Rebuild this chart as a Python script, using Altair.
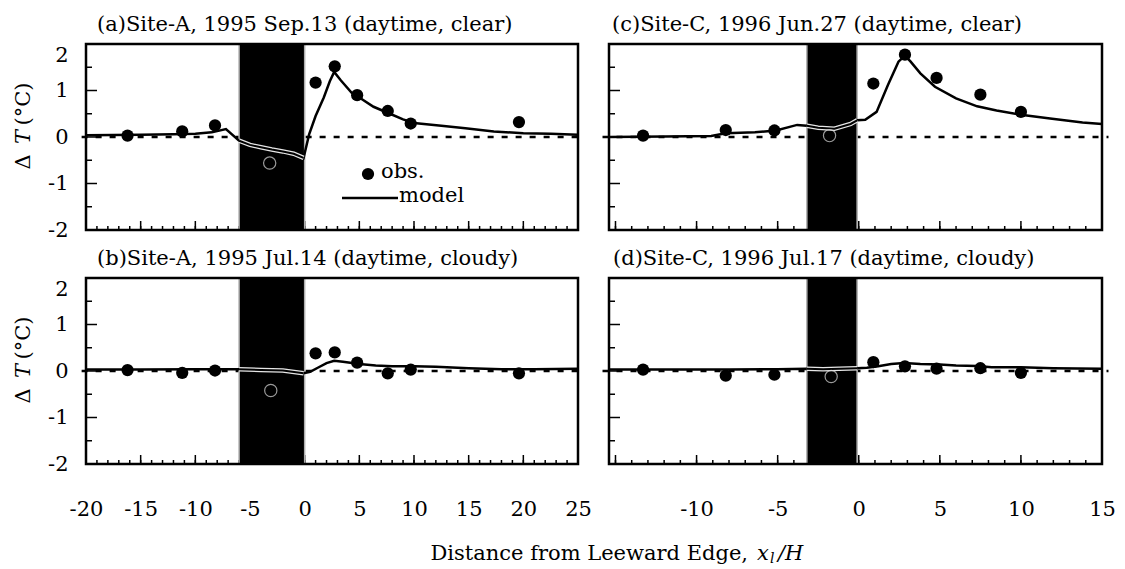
import altair as alt
import pandas as pd

FONT = "DejaVu Serif"
FS = 21

# observation stations, x/H from the leeward forest edge
SITE_A_X = [-16.2, -11.2, -8.2, 1.0, 2.75, 4.8, 7.6, 9.7, 19.6]
SITE_C_X = [-13.3, -8.2, -5.2, 0.9, 2.85, 4.8, 7.5, 10.0]

# forest strip (x/H) at each site
FOREST_A = [-6.0, 0.0]
FOREST_C = [-3.2, -0.1]

# (a) Site-A, 1995 Sep.13, clear
A_OBS = [0.03, 0.12, 0.25, 1.17, 1.52, 0.90, 0.56, 0.29, 0.32]
A_IN = [-3.2, -0.56]
A_MODEL_X = [-20, -15, -12, -10, -8.5, -7.2, -6.0, -5.0, -4.0, -3.0, -2.0, -1.0, -0.1,
             0.4, 1.0, 1.75, 2.3, 2.7, 3.3, 4.3, 5.0, 6.3, 7.8, 9.0, 10.0, 12.5, 14.7,
             17.3, 20.0, 22.5, 25.0]
A_MODEL_Y = [0.04, 0.05, 0.06, 0.07, 0.10, 0.17, -0.08, -0.17, -0.22, -0.27, -0.31, -0.36, -0.45,
             0.05, 0.45, 0.85, 1.20, 1.40, 1.22, 0.95, 0.85, 0.65, 0.50, 0.38, 0.30, 0.24, 0.19,
             0.12, 0.08, 0.07, 0.05]

# (b) Site-A, 1995 Jul.14, cloudy
B_OBS = [0.02, -0.04, 0.01, 0.38, 0.40, 0.18, -0.05, 0.03, -0.05]
B_IN = [-3.1, -0.42]
B_MODEL_X = [-20, -15, -10, -8, -6.0, -4.0, -2.0, -0.1, 0.5, 1.2, 2.0, 2.7, 3.5, 5.0, 6.5,
             8.0, 10, 12, 15, 18, 21, 25]
B_MODEL_Y = [0.03, 0.03, 0.04, 0.04, 0.04, 0.02, 0.01, -0.05, -0.02, 0.07, 0.17, 0.22, 0.20,
             0.15, 0.12, 0.10, 0.10, 0.09, 0.06, 0.04, 0.04, 0.05]

# (c) Site-C, 1996 Jun.27, clear
C_OBS = [0.03, 0.15, 0.14, 1.15, 1.77, 1.27, 0.91, 0.54]
C_IN = [-1.8, 0.03]
C_MODEL_X = [-15.4, -12, -9.1, -8.2, -6.4, -5.1, -3.8, -3.2, -2.5, -1.5, -0.5, -0.1, 0.4, 1.1,
             1.8, 2.45, 2.85, 3.2, 3.8, 4.7, 6.0, 7.3, 8.5, 10, 11.8, 13.8, 15.0]
C_MODEL_Y = [0.00, 0.01, 0.02, 0.08, 0.10, 0.14, 0.26, 0.24, 0.20, 0.18, 0.28, 0.36, 0.37, 0.54,
             1.12, 1.62, 1.75, 1.62, 1.37, 1.08, 0.83, 0.66, 0.57, 0.48, 0.40, 0.31, 0.28]

# (d) Site-C, 1996 Jul.17, cloudy
D_OBS = [0.03, -0.10, -0.08, 0.19, 0.10, 0.05, 0.06, -0.04]
D_IN = [-1.7, -0.12]
D_MODEL_X = [-15.4, -12, -8, -5, -3.2, -2.2, -1.2, -0.1, 0.5, 1.2, 2.0, 2.8, 3.8, 5.0, 6.0,
             7.3, 8.2, 10, 12, 15.0]
D_MODEL_Y = [0.03, 0.03, 0.03, 0.04, 0.05, 0.04, 0.05, 0.06, 0.07, 0.10, 0.15, 0.17, 0.15, 0.14,
             0.12, 0.11, 0.08, 0.08, 0.06, 0.05]

Y_LABELS = [-2, -1, 0, 1, 2]
H = 186


def one_row():
    return pd.DataFrame({"k": [0]})


def panel(title, title_dx, xdom, xlabels, forest, obs_x, obs_y, inside, mx, my,
          width, left=False, bottom=False, legend=False, xtitle=False):
    xs = alt.Scale(domain=xdom, nice=False, zero=False)
    ys = alt.Scale(domain=[-2, 2], nice=False, zero=False)

    if bottom:
        xaxis = alt.Axis(values=xlabels, labelExpr="datum.value + ''", ticks=False,
                         domain=False, grid=False, labelFont=FONT, labelFontSize=FS,
                         labelColor="black", labelPadding=34, labelFlush=False,
                         labelOverlap=False, title=None)
    else:
        xaxis = None
    if left:
        yaxis = alt.Axis(values=Y_LABELS, labelExpr="datum.value + ''", ticks=False,
                         domain=False, grid=False, labelFont=FONT, labelFontSize=FS,
                         labelColor="black", labelPadding=18, labelFlush=False, title=None,
                         labelBaseline=alt.condition("datum.value == 2",
                                                     alt.value("top"), alt.value("middle")))
    else:
        yaxis = None

    def X(field=None, datum=None):
        if datum is not None:
            return alt.X(datum=datum, type="quantitative", scale=xs, axis=xaxis)
        return alt.X(field, type="quantitative", scale=xs, axis=xaxis)

    def Y(field=None, datum=None):
        if datum is not None:
            return alt.Y(datum=datum, type="quantitative", scale=ys, axis=yaxis)
        return alt.Y(field, type="quantitative", scale=ys, axis=yaxis)

    lo, hi = xdom
    first = int(-(-lo // 1))
    xminor = pd.DataFrame({"v": list(range(first, int(hi) + 1))})
    xmajor = pd.DataFrame({"v": [v for v in range(first, int(hi) + 1) if v % 5 == 0]})
    yminor = pd.DataFrame({"v": [-1.5, -0.5, 0.5, 1.5]})
    ymajor = pd.DataFrame({"v": [-1, 0, 1]})

    obs = pd.DataFrame({"x": obs_x, "y": obs_y})
    model = pd.DataFrame({"x": mx, "y": my})
    inside_df = pd.DataFrame({"x": [inside[0]], "y": [inside[1]]})

    layers = []
    # zero reference line
    layers.append(
        alt.Chart(one_row()).mark_rule(color="black", strokeWidth=2.5, strokeDash=[6, 8])
        .encode(x=X(datum=lo - 0.4), x2=alt.X2(datum=hi + 0.4), y=Y(datum=0))
    )
    # inward ticks
    layers.append(alt.Chart(xminor).mark_rule(color="black", strokeWidth=1.5)
                  .encode(x=X("v"), y=alt.value(H), y2=alt.value(H - 4)))
    layers.append(alt.Chart(xmajor).mark_rule(color="black", strokeWidth=1.5)
                  .encode(x=X("v"), y=alt.value(H), y2=alt.value(H - 9)))
    layers.append(alt.Chart(yminor).mark_rule(color="black", strokeWidth=1.5)
                  .encode(y=Y("v"), x=alt.value(0), x2=alt.value(6)))
    layers.append(alt.Chart(ymajor).mark_rule(color="black", strokeWidth=1.5)
                  .encode(y=Y("v"), x=alt.value(0), x2=alt.value(11)))
    # forest strip
    layers.append(
        alt.Chart(one_row()).mark_rect(color="black", stroke="#b0b0b0", strokeWidth=1.5)
        .encode(x=X(datum=forest[0]), x2=alt.X2(datum=forest[1]),
                y=Y(datum=-2), y2=alt.Y2(datum=2))
    )
    # model profile
    layers.append(alt.Chart(model).mark_line(color="black", strokeWidth=2.5)
                  .encode(x=X("x"), y=Y("y"), order="x:Q"))
    inner = alt.Chart(model).transform_filter(
        f"datum.x >= {forest[0]} && datum.x <= {forest[1]}")
    layers.append(inner.mark_line(color="#e6e6e6", strokeWidth=4.5)
                  .encode(x=X("x"), y=Y("y"), order="x:Q"))
    layers.append(inner.mark_line(color="black", strokeWidth=2)
                  .encode(x=X("x"), y=Y("y"), order="x:Q"))
    # observations
    layers.append(alt.Chart(obs).mark_circle(color="black", size=150, opacity=1)
                  .encode(x=X("x"), y=Y("y")))
    layers.append(alt.Chart(inside_df).mark_point(shape="circle", filled=False, color="#dcdcdc",
                                                 strokeWidth=1.2, size=150)
                  .encode(x=X("x"), y=Y("y")))

    if legend:
        layers.append(alt.Chart(one_row()).mark_circle(color="black", size=150, opacity=1)
                      .encode(x=alt.value(282), y=alt.value(130)))
        layers.append(alt.Chart(one_row()).mark_text(text="obs.", font=FONT, fontSize=FS,
                                                     align="left", baseline="middle")
                      .encode(x=alt.value(295), y=alt.value(128)))
        layers.append(alt.Chart(one_row()).mark_rule(color="black", strokeWidth=2.5)
                      .encode(x=alt.value(256), x2=alt.value(312), y=alt.value(154)))
        layers.append(alt.Chart(one_row()).mark_text(text="model", font=FONT, fontSize=FS,
                                                     align="left", baseline="middle")
                      .encode(x=alt.value(313), y=alt.value(152)))

    if left:
        for txt, yy, style in [("Δ", 118, "normal"), ("T", 93, "italic"), ("(°C)", 60, "normal")]:
            layers.append(alt.Chart(one_row()).mark_text(text=txt, font=FONT, fontSize=FS,
                                                         fontStyle=style, angle=270,
                                                         align="center", baseline="middle")
                          .encode(x=alt.value(-62), y=alt.value(yy)))

    if xtitle:
        ty = H + 96
        parts = [("Distance from Leeward Edge,", 662, "right", "normal", FS, 0),
                 ("x", 671, "left", "italic", FS, 0),
                 ("l", 684, "left", "italic", 14, 3),
                 ("/H", 692, "left", "italic", FS, 0)]
        for txt, xx, al, style, size, dy in parts:
            layers.append(alt.Chart(one_row()).mark_text(text=txt, font=FONT, fontSize=size,
                                                         fontStyle=style, align=al,
                                                         baseline="alphabetic", dy=dy)
                          .encode(x=alt.value(xx), y=alt.value(ty)))

    # plot frame
    layers.append(alt.Chart(one_row()).mark_rect(fill=None, fillOpacity=0, stroke="black",
                                                 strokeWidth=2.5)
                  .encode(x=alt.value(0), x2=alt.value(width), y=alt.value(0), y2=alt.value(H)))

    return alt.layer(*layers).properties(
        width=width, height=H,
        title=alt.TitleParams(title, font=FONT, fontSize=FS, fontWeight="normal", color="black",
                              anchor="start", frame="group", dx=title_dx, offset=-9,
                              baseline="alphabetic"),
    )


LEFT_DOM = [-20, 25]
RIGHT_DOM = [-15.4, 15]
LEFT_LABELS = [-20, -15, -10, -5, 0, 5, 10, 15, 20, 25]
RIGHT_LABELS = [-10, -5, 0, 5, 10, 15]

pa = panel("(a)Site-A, 1995 Sep.13 (daytime, clear)", 11, LEFT_DOM, LEFT_LABELS, FOREST_A,
           SITE_A_X, A_OBS, A_IN, A_MODEL_X, A_MODEL_Y, 492, left=True, legend=True)
pc = panel("(c)Site-C, 1996 Jun.27 (daytime, clear)", 3, RIGHT_DOM, RIGHT_LABELS, FOREST_C,
           SITE_C_X, C_OBS, C_IN, C_MODEL_X, C_MODEL_Y, 493)
pb = panel("(b)Site-A, 1995 Jul.14 (daytime, cloudy)", 11, LEFT_DOM, LEFT_LABELS, FOREST_A,
           SITE_A_X, B_OBS, B_IN, B_MODEL_X, B_MODEL_Y, 492, left=True, bottom=True, xtitle=True)
pd_ = panel("(d)Site-C, 1996 Jul.17 (daytime, cloudy)", 4, RIGHT_DOM, RIGHT_LABELS, FOREST_C,
            SITE_C_X, D_OBS, D_IN, D_MODEL_X, D_MODEL_Y, 493, bottom=True)

chart = alt.concat(pa, pc, pb, pd_, columns=2, spacing={"row": 48, "column": 31},
                   bounds="flush").properties(
    padding={"left": 13, "top": 13, "right": 5, "bottom": 0},
    background="white",
).configure_view(stroke=None)

chart.save("out.html", embed_options={"renderer": "svg", "actions": False})
